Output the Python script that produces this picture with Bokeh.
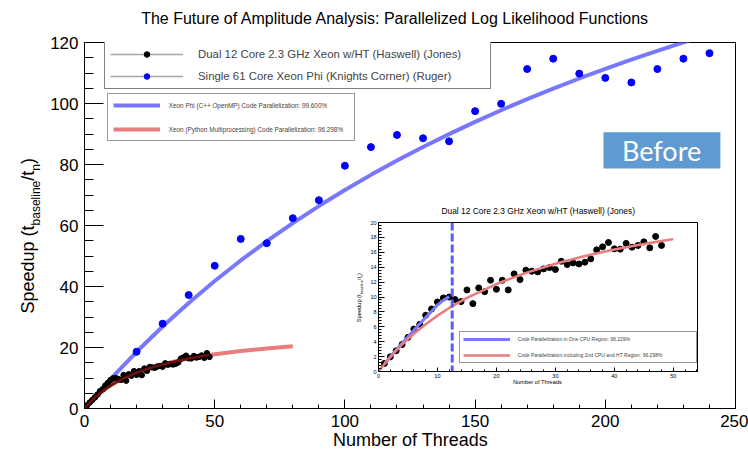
import math
from bokeh.plotting import figure
from bokeh.models import (Range1d, SingleIntervalTicker, Legend, LegendItem, Label,
                          BoxAnnotation, Span, ColumnDataSource, GridBox)
from bokeh.embed import file_html
from bokeh.resources import INLINE

# ---------------- data ----------------
threads_jones = list(range(1, 49))
speedup_jones = [1.08, 1.97, 2.78, 3.63, 4.58, 5.70, 6.33, 7.54, 8.39, 9.33,
                 9.87, 10.00, 9.65, 9.38, 10.95, 9.11, 11.22, 10.72, 12.25, 11.04,
                 12.25, 10.95, 13.10, 12.34, 13.60, 13.46, 13.37, 13.77, 13.95, 13.69,
                 14.80, 14.36, 14.58, 14.44, 14.67, 15.12, 16.33, 16.73, 17.32, 16.46,
                 16.42, 17.19, 16.69, 16.92, 17.40, 16.60, 18.13, 16.92]

threads_ruger = [20, 30, 40, 50, 60, 70, 80, 90, 100, 110, 120, 130,
                 140, 150, 160, 170, 180, 190, 200, 210, 220, 230, 240]
speedup_ruger = [18.6, 27.8, 37.2, 46.8, 55.6, 54.2, 62.4, 68.3, 79.6, 85.7, 89.7, 88.6,
                 87.6, 97.5, 99.9, 111.3, 114.7, 109.8, 108.4, 106.9, 111.3, 114.7, 116.5]

fit_phi_threads = [0, 1, 2, 3, 5, 10, 20, 30, 40, 50, 60, 70, 80, 90, 100, 110, 120,
                   130, 140, 150, 160, 170, 180, 190, 200, 210, 220, 230, 240]
fit_phi_speedup = [0, 1.0, 1.99, 2.98, 4.92, 9.65, 18.59, 26.88, 34.60, 41.81, 48.54,
                   54.86, 60.79, 66.37, 71.63, 76.60, 81.30, 85.75, 89.97, 93.98, 97.80,
                   101.43, 104.89, 108.20, 111.36, 114.38, 117.27, 120.03, 122.70]

fit_xeon_threads = [0, 1, 2, 3, 4, 5, 6, 8, 10, 12, 15, 20, 25, 30, 35, 40, 45, 48,
                    50, 60, 70, 80]
fit_xeon_speedup = [0, 1.0, 1.93, 2.79, 3.60, 4.36, 5.06, 6.35, 7.50, 8.53, 9.88, 11.74,
                    13.24, 14.47, 15.50, 16.37, 17.12, 17.52, 17.77, 18.84, 19.69, 20.39]

fit_cpu_threads = [1, 2, 3, 4, 5, 6, 7, 8, 9, 10, 11, 12]
fit_cpu_speedup = [1.0, 1.97, 2.90, 3.80, 4.67, 5.55, 6.40, 7.25, 8.10, 8.95, 9.55, 10.05]

one_cpu_limit = 12.5

x_ticks_main = 50
y_ticks_main = 20

title_main = "The Future of Amplitude Analysis: Parallelized Log Likelihood Functions"
xlabel = "Number of Threads"
label_jones = "Dual 12 Core 2.3 GHz Xeon w/HT (Haswell) (Jones)"
label_ruger = "Single 61 Core Xeon Phi (Knights Corner) (Ruger)"
label_fit_phi = "Xeon Phi (C++ OpenMP) Code Parallelization: 99.600%"
label_fit_xeon = "Xeon (Python Multiprocessing) Code Parallelization: 96.298%"
label_fit_cpu = "Code Parallelization in One CPU Region: 98.229%"
label_fit_ht = "Code Parallelization including 2nd CPU and HT Region: 96.298%"

FONT = "Liberation Sans"
BLUE_FIT = "#7878ff"
RED_FIT = "#e97c7c"

# ---------------- main figure ----------------
p = figure(width=748, height=449, x_range=Range1d(0, 250), y_range=Range1d(0, 120),
           output_backend="svg", toolbar_location=None,
           min_border_left=84, min_border_right=13, min_border_top=42, min_border_bottom=41)
p.frame_align = False
p.grid.visible = False
p.outline_line_color = "black"
p.outline_line_width = 1
p.background_fill_color = "white"
p.border_fill_color = "white"

p.xaxis.ticker = SingleIntervalTicker(interval=x_ticks_main, num_minor_ticks=5)
p.yaxis.ticker = SingleIntervalTicker(interval=y_ticks_main, num_minor_ticks=4)
for ax in (p.xaxis[0], p.yaxis[0]):
    ax.major_tick_out = 0
    ax.minor_tick_out = 0
    ax.major_label_text_font = FONT
    ax.major_label_text_font_size = "17px"
    ax.major_label_text_color = "black"
    ax.axis_line_color = "black"
    ax.major_tick_line_color = "black"
    ax.minor_tick_line_color = "black"
p.xaxis.major_tick_in = 9
p.xaxis.minor_tick_in = 4
p.xaxis.major_label_standoff = 6
p.yaxis.major_tick_in = 19
p.yaxis.minor_tick_in = 9
p.yaxis.major_label_standoff = 6

src_j = ColumnDataSource(dict(x=threads_jones, y=speedup_jones))
src_r = ColumnDataSource(dict(x=threads_ruger, y=speedup_ruger))
src_phi = ColumnDataSource(dict(x=fit_phi_threads, y=fit_phi_speedup))
src_xeon = ColumnDataSource(dict(x=fit_xeon_threads, y=fit_xeon_speedup))
n48 = fit_xeon_threads.index(48) + 1
src_xeon_dark = ColumnDataSource(dict(x=fit_xeon_threads[:n48], y=fit_xeon_speedup[:n48]))

r_xeon = p.line("x", "y", source=src_xeon, line_color=RED_FIT, line_width=4)
r_phi = p.line("x", "y", source=src_phi, line_color=BLUE_FIT, line_width=4)
r_j = p.scatter("x", "y", source=src_j, size=5.5, fill_color="black", line_color="black")
p.line("x", "y", source=src_xeon_dark, line_color="#6e1010", line_width=2.5)
r_r = p.scatter("x", "y", source=src_r, size=7, fill_color="#0000ff", line_color="#0000ff")

# legend-only grey lines (hidden in the plot, drawn in the legend)
gl_j = p.line("x", "y", source=src_j, line_color="#a8a8a8", line_width=1.3, visible=False)
gl_r = p.line("x", "y", source=src_r, line_color="#a8a8a8", line_width=1.3, visible=False)

leg1 = Legend(items=[LegendItem(label=label_jones, renderers=[gl_j, r_j]),
                     LegendItem(label=label_ruger, renderers=[gl_r, r_r])],
              location=(20, 319.3), margin=0, padding=5, spacing=8,
              glyph_width=73, glyph_height=14, label_height=14, label_width=287,
              label_standoff=15, label_text_font=FONT, label_text_font_size="11.4px",
              border_line_color="black", border_line_width=1,
              background_fill_color="white", background_fill_alpha=1)
leg2 = Legend(items=[LegendItem(label=label_fit_phi, renderers=[r_phi]),
                     LegendItem(label=label_fit_xeon, renderers=[r_xeon])],
              location=(22.7, 266.7), margin=0, padding=5, spacing=12,
              glyph_width=47, glyph_height=12, label_height=12, label_width=180,
              label_standoff=9, label_text_font=FONT, label_text_font_size="6.4px",
              border_line_color="#333333", border_line_width=1,
              background_fill_color="white", background_fill_alpha=1)
p.add_layout(leg1)
p.add_layout(leg2)

# "Before" tag
p.add_layout(BoxAnnotation(left=199.3, right=244.2, bottom=78.7, top=90.6,
                           fill_color="#5f9bd2", fill_alpha=1, line_color=None))
p.add_layout(Label(x=221.6, y=84.5, text="Before", text_font="Lato",
                   text_font_size="27px", text_color="white",
                   text_align="center", text_baseline="middle"))

# ---------------- inset figure ----------------
q = figure(width=350, height=200, x_range=Range1d(0, 54.1), y_range=Range1d(0, 20),
           output_backend="svg", toolbar_location=None,
           min_border_left=28, min_border_right=3, min_border_top=24, min_border_bottom=27)
q.frame_align = False
q.grid.visible = False
q.outline_line_color = "black"
q.background_fill_color = "white"
q.border_fill_color = "white"
q.border_fill_alpha = 0
q.xaxis.ticker = SingleIntervalTicker(interval=10, num_minor_ticks=5)
q.yaxis.ticker = SingleIntervalTicker(interval=2, num_minor_ticks=5)
for ax in (q.xaxis[0], q.yaxis[0]):
    ax.major_tick_out = 0
    ax.minor_tick_out = 0
    ax.major_label_text_font = FONT
    ax.major_label_text_font_size = "5.5px"
    ax.major_label_standoff = 2
    ax.major_label_text_color = "black"
q.xaxis.major_tick_in = 4
q.xaxis.minor_tick_in = 2
q.yaxis.major_tick_in = 6
q.yaxis.minor_tick_in = 3

n50 = fit_xeon_threads.index(50) + 1
src_xeon_in = ColumnDataSource(dict(x=fit_xeon_threads[:n50], y=fit_xeon_speedup[:n50]))
src_cpu = ColumnDataSource(dict(x=fit_cpu_threads, y=fit_cpu_speedup))

q.scatter("x", "y", source=src_j, size=6, fill_color="black", line_color="black")
q_cpu = q.line("x", "y", source=src_cpu, line_color=BLUE_FIT, line_width=3)
q_ht = q.line("x", "y", source=src_xeon_in, line_color=RED_FIT, line_width=2.5)
q.add_layout(Span(location=one_cpu_limit, dimension="height", line_color="#5a5aff",
                  line_width=3, line_dash="8 3"))

leg3 = Legend(items=[LegendItem(label=label_fit_cpu, renderers=[q_cpu]),
                     LegendItem(label=label_fit_ht, renderers=[q_ht])],
              location=(80.7, 7.7), margin=0, padding=3, spacing=8,
              glyph_width=47, glyph_height=8, label_height=8, label_width=175,
              label_standoff=8, label_text_font=FONT, label_text_font_size="5px",
              border_line_color="#333333", border_line_width=1,
              background_fill_color="white", background_fill_alpha=1)
q.add_layout(leg3)

# ---------------- transparent text layer (page pixel coordinates) ----------------
t = figure(width=748, height=449, x_range=Range1d(0, 748), y_range=Range1d(449, 0),
           output_backend="svg", toolbar_location=None, title=None,
           x_axis_location=None, y_axis_location=None, min_border=0)
t.frame_align = False
t.grid.visible = False
t.outline_line_color = None
t.background_fill_alpha = 0
t.border_fill_alpha = 0


def text(fig, x, y, s, size, align="center", baseline="middle", angle=0.0):
    fig.add_layout(Label(x=x, y=y, text=s, text_font=FONT, text_font_size=f"{size}px",
                         text_align=align, text_baseline=baseline, angle=angle,
                         text_color="black"))


def rotated_label(fig, x0, y0, size, sub_size, sub_shift, parts):
    y = y0
    for s, is_sub, w_em in parts:
        fs = sub_size if is_sub else size
        text(fig, x0 + (sub_shift if is_sub else 0), y, s, fs, align="left",
             baseline="alphabetic", angle=math.pi / 2)
        y -= w_em * fs


ylabel_parts = [("Speedup (t", False, 4.892), ("baseline", True, 3.724),
                ("/t", False, 0.556), ("n", True, 0.556), (")", False, 0.333)]

text(t, 395, 18, title_main, 16)
text(t, 410, 439.5, xlabel, 18)
rotated_label(t, 27, 313, 18, 12, 8.5, ylabel_parts)

text(t, 537.8, 210, label_jones, 8.4)
text(t, 537, 381.5, xlabel, 5.7)
rotated_label(t, 358.5, 321.7, 5.7, 3.8, 2.5, ylabel_parts)

grid = GridBox(children=[(p, 0, 0, 3, 3), (q, 1, 1, 1, 1), (t, 0, 0, 3, 3)],
               rows=["198px", "200px", "51px"], cols=["350px", "350px", "48px"],
               spacing=0)
open("out.html", "w").write(file_html(grid, INLINE))
